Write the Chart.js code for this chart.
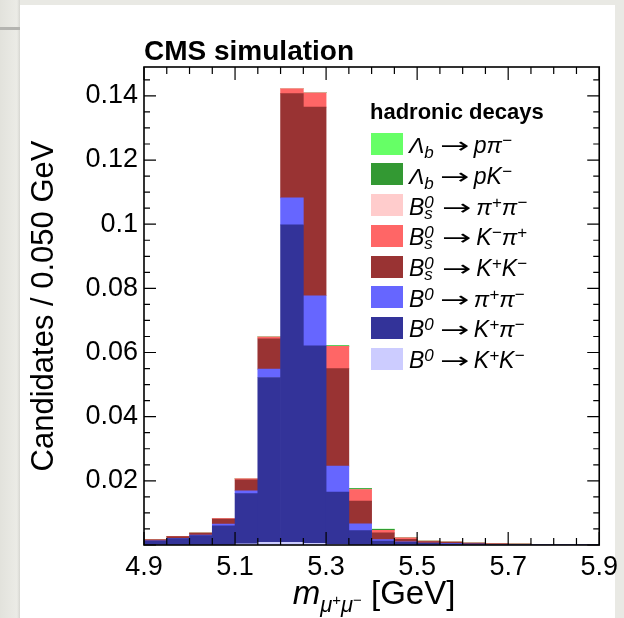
<!DOCTYPE html>
<html>
<head>
<meta charset="utf-8">
<script src="https://cdn.jsdelivr.net/npm/chart.js@4.4.1/dist/chart.umd.min.js"></script>
<style>
  html, body { margin: 0; padding: 0; }
  body {
    width: 624px; height: 618px; overflow: hidden; position: relative;
    background: #e9e9e4; font-family: "Liberation Sans", Arial, sans-serif;
  }
  #leftband {
    position: absolute; left: 0; top: 0; width: 20px; height: 618px;
    background: linear-gradient(to right, #e2e2dc, #ebebe6 85%, #d6d6d1);
  }
  #leftline { position: absolute; left: 0; top: 27px; width: 20px; height: 3px; background: #b4b4b0; }
  #panel { position: absolute; left: 20px; top: 5px; width: 595px; height: 613px; background: #fff; }
  #c { position: absolute; left: 0; top: 0; }
  .txt { position: absolute; color: #000; white-space: nowrap; }
  #cms { left: 144px; top: 37px; font-size: 28px; line-height: 28px; font-weight: bold; }
  #xtitle { left: 144px; width: 460px; top: 576px; font-size: 33px; line-height: 33px; text-align: center; }
  #xtitle .sb { font-size: 22px; position: relative; top: 8px; font-style: italic; }
  #xtitle .sp { font-size: 15px; position: relative; top: -7px; font-style: normal; }
  #legtitle { left: 370px; top: 101px; font-size: 22px; line-height: 22px; font-weight: bold; }
  .box { position: absolute; width: 32px; height: 22px; }
  .lab { font-size: 23px; line-height: 22px; font-style: italic; }
  .lab .ar {
    display: inline-block; width: 24px; text-align: center; margin: 0 7px 0 9px;
    font-style: normal; font-family: "DejaVu Sans", sans-serif; font-size: 22px;
    transform: scaleX(1.6);
  }
  .dn { font-size: 17px; position: relative; top: 5px; }
  .up { font-size: 17px; position: relative; top: -7px; }
  .ss { display: inline-block; position: relative; width: 12px; height: 0; }
  .ss span { position: absolute; left: 0; font-size: 17px; line-height: 17px; }
  .ss .u { bottom: 4px; }
  .ss .d { bottom: -7px; }
</style>
</head>
<body>
<div id="leftband"></div>
<div id="leftline"></div>
<div id="panel"></div>
<canvas id="c" width="624" height="618"></canvas>
<div class="txt" id="cms">CMS simulation</div>
<div class="txt" id="xtitle"><i>m</i><span class="sb">μ<span class="sp">+</span>μ<span class="sp">−</span></span> [GeV]</div>
<div class="txt" id="legtitle">hadronic decays</div>
<script>
// bins of 0.050 GeV from 4.9 to 5.9
const binCenters = [4.925, 4.975, 5.025, 5.075, 5.125, 5.175, 5.225, 5.275, 5.325, 5.375,
                    5.425, 5.475, 5.525, 5.575, 5.625, 5.675, 5.725, 5.775, 5.825, 5.875];
const xTickLabels = ['4.9', '5.1', '5.3', '5.5', '5.7', '5.9'];
const yTickValues = [0.02, 0.04, 0.06, 0.08, 0.10, 0.12, 0.14];
const yTickLabels = ['0.02', '0.04', '0.06', '0.08', '0.1', '0.12', '0.14'];

// stacked components, bottom to top
const b0KK    = [0, 0, 0, 0, 0.0004, 0.0008, 0.0008, 0.0005, 0.0002, 0, 0, 0, 0, 0, 0, 0, 0, 0, 0, 0];
const b0Kpi   = [0.0012, 0.0020, 0.0029, 0.0060, 0.0156, 0.0514, 0.0990, 0.0616, 0.0163, 0.0045,
                 0.0012, 0.0008, 0.0005, 0.0004, 0.0003, 0.0002, 0.0002, 0.0001, 0.0001, 0.0001];
const b0pipi  = [0.0001, 0.0001, 0.0002, 0.0005, 0.0009, 0.0026, 0.0084, 0.0156, 0.0081, 0.0021,
                 0.0005, 0.0002, 0.0001, 0.0001, 0, 0, 0, 0, 0, 0];
const bsKK    = [0.0003, 0.0005, 0.0006, 0.0016, 0.0034, 0.0095, 0.0325, 0.0588, 0.0304, 0.0071,
                 0.0021, 0.0008, 0.0005, 0.0004, 0.0003, 0.0002, 0.0001, 0.0001, 0.0001, 0];
const bsKpi   = [0, 0, 0, 0.0001, 0.0003, 0.0005, 0.0015, 0.0044, 0.0069, 0.0036,
                 0.0008, 0.0004, 0.0001, 0, 0, 0, 0, 0, 0, 0];
const bspipi  = [0, 0, 0, 0, 0.0001, 0.0001, 0.0001, 0.0001, 0, 0, 0, 0, 0, 0, 0, 0, 0, 0, 0, 0];
const lbpK    = [0, 0, 0, 0, 0, 0, 0, 0.0001, 0.0002, 0.0003, 0.0003, 0.0001, 0, 0, 0, 0, 0, 0, 0, 0];
const lbppi   = [0, 0, 0, 0, 0, 0, 0, 0, 0.0001, 0.0001, 0.0001, 0, 0, 0, 0, 0, 0, 0, 0, 0];

const Y_MAX = 0.149;

const seriesNames = ['B0 → K+K−', 'B0 → K+π−', 'B0 → π+π−', 'Bs0 → K+K−', 'Bs0 → K−π+',
                     'Bs0 → π+π−', 'Λb → pK−', 'Λb → pπ−'];
const seriesColors = ['#ccccff', '#333399', '#6666ff', '#993333', '#ff6666', '#ffcccc', '#339933', '#66ff66'];
const seriesData = [b0KK, b0Kpi, b0pipi, bsKK, bsKpi, bspipi, lbpK, lbppi];

const B0 = 'B<span class="up">0</span>';
const BS = 'B<span class="ss"><span class="u">0</span><span class="d">s</span></span>';
const LB = 'Λ<span class="dn">b</span>';
const AR = '<span class="ar">→</span>';
const legendHtml = [
  B0 + AR + 'K<span class="up">+</span>K<span class="up">−</span>',
  B0 + AR + 'K<span class="up">+</span>π<span class="up">−</span>',
  B0 + AR + 'π<span class="up">+</span>π<span class="up">−</span>',
  BS + AR + 'K<span class="up">+</span>K<span class="up">−</span>',
  BS + AR + 'K<span class="up">−</span>π<span class="up">+</span>',
  BS + AR + 'π<span class="up">+</span>π<span class="up">−</span>',
  LB + AR + 'pK<span class="up">−</span>',
  LB + AR + 'pπ<span class="up">−</span>'
];

// legend, top row is the top of the stack
for (let k = seriesNames.length - 1, row = 0; k >= 0; k--, row++) {
  const top = 132.7 + row * 30.7;
  const box = document.createElement('div');
  box.className = 'box';
  box.style.left = '371px';
  box.style.top = top + 'px';
  box.style.background = seriesColors[k];
  document.body.appendChild(box);
  const lab = document.createElement('div');
  lab.className = 'txt lab';
  lab.style.left = '409px';
  lab.style.top = (top + 1.5) + 'px';
  lab.innerHTML = legendHtml[k];
  document.body.appendChild(lab);
}

// ROOT style frame with inward ticks on all four sides
const rootFrame = {
  id: 'rootFrame',
  afterDatasetsDraw(chart) {
    const {ctx, chartArea: a, scales} = chart;
    const xs = scales.x2, ys = scales.y;
    ctx.save();
    ctx.strokeStyle = '#000';
    ctx.lineWidth = 1.2;
    ctx.beginPath();
    for (let i = 0; i <= 20; i++) {
      const px = xs.getPixelForValue(4.9 + i * 0.05);
      const len = i % 4 === 0 ? 13 : 7;
      ctx.moveTo(px, a.bottom); ctx.lineTo(px, a.bottom - len);
      ctx.moveTo(px, a.top); ctx.lineTo(px, a.top + len);
    }
    for (let i = 0; i * 0.005 <= Y_MAX; i++) {
      const py = ys.getPixelForValue(i * 0.005);
      const len = i % 4 === 0 ? 12 : 6;
      ctx.moveTo(a.left, py); ctx.lineTo(a.left + len, py);
      ctx.moveTo(a.right, py); ctx.lineTo(a.right - len, py);
    }
    ctx.stroke();
    ctx.lineWidth = 1.6;
    ctx.strokeRect(a.left, a.top, a.right - a.left, a.bottom - a.top);
    ctx.restore();
  }
};

Chart.defaults.font.family = '"Liberation Sans", Arial, sans-serif';
Chart.defaults.color = '#000';

new Chart(document.getElementById('c'), {
  type: 'bar',
  data: {
    labels: binCenters,
    datasets: seriesNames.map((name, k) => ({
      label: name,
      data: seriesData[k],
      backgroundColor: seriesColors[k],
      borderWidth: 0,
      barPercentage: 1,
      categoryPercentage: 1
    }))
  },
  options: {
    responsive: false,
    animation: false,
    devicePixelRatio: 1,
    layout: { padding: { left: 0, right: 20, top: 67, bottom: 0 } },
    plugins: { legend: { display: false }, tooltip: { enabled: false } },
    scales: {
      x: { display: false, stacked: true, offset: true },
      x2: {
        type: 'linear', position: 'bottom', min: 4.9, max: 5.9, offset: false,
        grid: { display: false, drawTicks: false, offset: false },
        border: { display: false },
        ticks: {
          stepSize: 0.2, autoSkip: false, maxRotation: 0, padding: 6,
          font: { size: 27 },
          callback: (v, i) => xTickLabels[i]
        },
        afterFit: (s) => { s.height = 73; }
      },
      y: {
        stacked: true, min: 0, max: Y_MAX,
        grid: { display: false, drawTicks: false },
        border: { display: false },
        ticks: {
          stepSize: 0.02, includeBounds: false, padding: 6,
          font: { size: 27 },
          callback: (v) => {
            const k = yTickValues.findIndex(t => Math.abs(t - v) < 1e-9);
            return k >= 0 ? yTickLabels[k] : '';
          }
        },
        title: {
          display: true, text: 'Candidates / 0.050 GeV',
          font: { size: 31 }, padding: { top: 26, bottom: 0 }
        },
        afterFit: (s) => { s.width = 144; }
      }
    }
  },
  plugins: [rootFrame]
});
</script>
</body>
</html>
